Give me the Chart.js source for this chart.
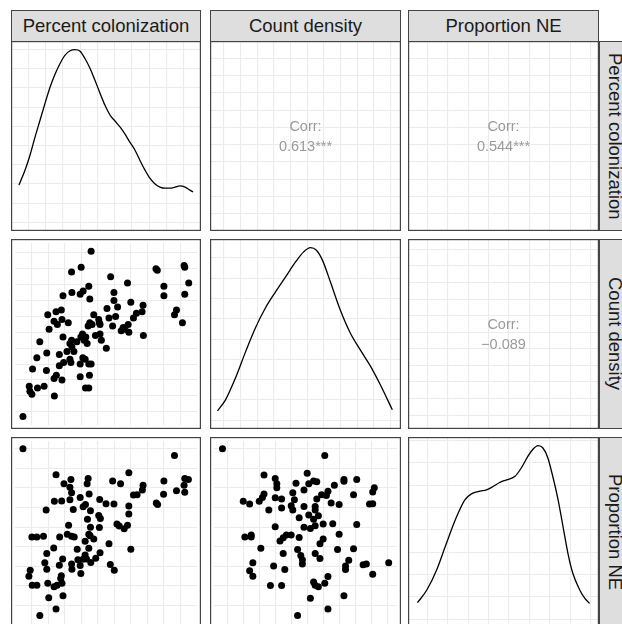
<!DOCTYPE html>
<html>
<head>
<meta charset="utf-8">
<script src="https://cdn.jsdelivr.net/npm/chart.js@4.4.1/dist/chart.umd.min.js"></script>
<style>
  body { margin: 0; background: #fff; width: 622px; height: 624px; overflow: hidden; position: relative; font-family: "Liberation Sans", Arial, sans-serif; }
  .panel { position: absolute; }
  .panel canvas { position: absolute; left: 0; top: 0; }
  .strip { position: absolute; background: #dedede; border: 1px solid #444; box-sizing: border-box; color: #1a1a1a; font-size: 18.5px; display: flex; align-items: center; justify-content: center; white-space: nowrap; }
  .strip.right { writing-mode: vertical-rl; }
  .corr { position: absolute; color: #9a9a9a; font-size: 14.5px; text-align: center; line-height: 20px; }
</style>
</head>
<body>
<script>
var varNames = ["Percent colonization", "Count density", "Proportion NE"];
var corrLabels = ["Corr:", "Corr:", "Corr:"];
var corrValues = ["0.613***", "0.544***", "\u22120.089"];

// gridline positions for each variable and for the density axes
var pcTicks = [5, 10, 15, 20, 25, 30, 35, 40, 45, 50];
var cdTicks = [1, 2, 3, 4, 5, 6, 7, 8, 9, 10, 11];
var neTicks = [0.30, 0.35, 0.40, 0.45, 0.50, 0.55, 0.60, 0.65, 0.70];
var pcDensTicks = [0, 0.005, 0.01, 0.015, 0.02, 0.025, 0.03, 0.035, 0.04, 0.045];
var cdDensTicks = [0, 0.02, 0.04, 0.06, 0.08, 0.10, 0.12, 0.14, 0.16];
var neDensTicks = [0, 0.25, 0.5, 0.75, 1, 1.25, 1.5, 1.75, 2];

// percent colonization vs count density
var pcVsCd = [[23.0,11.1],[20.0,10.1],[17.1,9.8],[28.9,9.5],[22.3,8.9],[34.0,9.1],[17.2,8.5],[19.7,8.4],[20.6,8.6],[14.5,8.3],
  [22.6,8.1],[29.9,8.5],[29.9,8.0],[31.0,7.6],[35.0,7.9],[38.7,7.7],[27.8,7.5],[9.9,7.1],[12.4,7.3],[14.0,7.4],
  [14.2,6.8],[11.8,6.7],[12.8,6.5],[16.1,6.6],[23.8,7.1],[25.3,6.8],[25.7,6.5],[22.6,6.6],[22.1,6.4],[28.4,6.9],
  [30.4,7.0],[29.5,6.4],[10.3,6.2],[14.5,5.7],[7.5,5.4],[20.4,5.9],[21.4,5.7],[21.8,5.3],[17.1,5.5],[16.6,5.3],
  [18.7,5.4],[17.2,5.1],[15.7,4.8],[17.8,4.8],[24.3,5.8],[25.7,5.9],[26.1,5.5],[27.6,5.0],[32.1,6.1],[33.2,6.2],
  [34.2,6.5],[34.4,6.0],[35.8,6.9],[36.7,7.2],[38.4,7.3],[38.8,5.8],[9.6,4.7],[6.6,4.4],[13.4,4.6],[14.7,4.1],
  [16.6,4.3],[16.9,4.1],[13.4,3.9],[9.5,3.6],[5.3,3.7],[11.8,3.1],[12.5,3.3],[14.2,3.0],[20.5,4.4],[21.2,4.3],
  [19.7,4.0],[22.3,4.0],[23.0,4.0],[19.7,3.2],[22.5,3.3],[21.3,2.5],[22.3,2.5],[8.8,2.6],[6.8,2.5],[4.3,2.6],
  [4.5,2.3],[5.1,2.1],[11.9,2.0],[2.4,0.7],[42.6,10.0],[43.0,9.9],[45.0,8.9],[45.0,8.3],[51.1,10.2],[51.3,10.1],
  [52.5,9.1],[51.3,8.4],[48.8,7.4],[48.2,7.1],[50.6,6.6],[19.9,5.7],[20.9,5.5],[23.3,6.5],[25.5,6.6],[32.7,6.3]];

// percent colonization vs proportion NE
var pcVsNe = [[2.4,0.700],[48.2,0.683],[12.4,0.634],[16.9,0.622],[14.8,0.611],[22.1,0.624],[21.8,0.611],[16.6,0.602],[17.1,0.588],[29.5,0.618],
  [31.9,0.611],[34.4,0.639],[38.7,0.607],[38.5,0.595],[36.9,0.583],[35.8,0.582],[45.0,0.618],[44.9,0.584],[42.7,0.562],[43.1,0.558],
  [48.8,0.593],[51.3,0.624],[52.4,0.622],[51.1,0.607],[51.3,0.589],[11.9,0.566],[14.1,0.567],[16.6,0.570],[19.7,0.576],[22.4,0.585],
  [25.6,0.571],[27.5,0.560],[29.9,0.559],[9.4,0.544],[17.6,0.545],[20.6,0.552],[21.3,0.558],[22.8,0.542],[25.3,0.530],[25.8,0.522],
  [21.9,0.520],[34.4,0.554],[34.4,0.534],[30.8,0.508],[31.5,0.503],[33.0,0.496],[34.0,0.505],[22.8,0.500],[25.5,0.499],[16.2,0.505],
  [5.1,0.475],[6.6,0.475],[8.6,0.477],[13.5,0.475],[15.8,0.482],[17.1,0.477],[17.9,0.475],[22.3,0.482],[22.7,0.478],[23.8,0.470],
  [21.2,0.464],[28.4,0.458],[11.7,0.447],[18.8,0.444],[22.3,0.446],[35.0,0.444],[9.6,0.433],[14.4,0.419],[13.4,0.403],[9.0,0.409],
  [9.6,0.393],[17.1,0.406],[17.2,0.393],[19.7,0.402],[21.2,0.429],[21.6,0.419],[22.9,0.410],[24.4,0.421],[25.7,0.435],[28.8,0.405],
  [30.0,0.390],[4.6,0.390],[4.2,0.375],[5.2,0.352],[6.6,0.352],[9.9,0.357],[11.8,0.348],[12.7,0.352],[14.2,0.357],[13.8,0.369],
  [14.0,0.376],[19.9,0.382],[10.2,0.320],[14.5,0.325],[12.4,0.291],[7.5,0.275],[20.6,0.418],[19.0,0.417]];

// count density vs proportion NE
var cdVsNe = [[0.7,0.700],[7.1,0.683],[3.3,0.633],[4.0,0.624],[4.1,0.611],[4.1,0.601],[6.0,0.638],[5.3,0.612],[6.1,0.611],[6.4,0.618],
  [6.6,0.616],[7.7,0.607],[8.3,0.622],[8.3,0.617],[9.1,0.622],[10.2,0.601],[10.1,0.590],[3.3,0.585],[3.2,0.576],[3.0,0.566],
  [2.0,0.566],[2.4,0.559],[4.0,0.575],[4.4,0.572],[5.1,0.588],[5.2,0.570],[5.8,0.595],[6.9,0.583],[7.2,0.581],[7.3,0.592],
  [8.9,0.583],[9.9,0.559],[10.1,0.560],[7.5,0.562],[8.0,0.558],[6.6,0.572],[3.6,0.544],[4.4,0.549],[5.0,0.555],[5.1,0.544],
  [5.8,0.553],[6.5,0.553],[6.5,0.544],[6.1,0.531],[6.7,0.529],[5.5,0.524],[6.4,0.520],[7.0,0.508],[7.6,0.509],[6.5,0.504],
  [5.8,0.500],[6.2,0.497],[4.0,0.501],[9.1,0.507],[2.1,0.475],[2.5,0.480],[2.5,0.475],[4.3,0.465],[4.5,0.473],[4.7,0.480],
  [5.0,0.480],[5.5,0.474],[7.0,0.470],[6.8,0.458],[8.0,0.482],[3.1,0.446],[4.5,0.433],[5.4,0.443],[5.6,0.428],[5.7,0.417],
  [5.7,0.406],[6.5,0.433],[6.8,0.420],[7.9,0.443],[8.9,0.445],[8.6,0.416],[8.4,0.401],[8.4,0.392],[9.5,0.404],[9.7,0.406],
  [10.1,0.380],[11.1,0.409],[2.6,0.409],[2.4,0.389],[2.6,0.375],[3.9,0.401],[4.6,0.392],[3.7,0.351],[4.4,0.351],[6.5,0.352],
  [6.7,0.348],[7.1,0.357],[7.3,0.374],[6.2,0.319],[8.3,0.325],[7.3,0.291],[5.4,0.275],[6.4,0.360]];

// density curves on the diagonal
var pcDensX = [2.3,4.05,5.5,6.95,8.4,9.84,11.3,12.74,14.2,15.6,17.1,18.5,20.0,21.4,22.9,24.3,25.8,27.2,28.7,30.1,31.6,33.0,34.4,35.9,37.3,38.8,40.2,41.7,43.1,44.6,46.0,47.5,48.9,50.4,51.8,52.7];
var pcDensY = [0.0097,0.0136,0.0175,0.0222,0.0266,0.0310,0.0352,0.0386,0.0414,0.0435,0.0447,0.0450,0.0446,0.0427,0.0401,0.0370,0.0336,0.0305,0.0279,0.0264,0.0248,0.0230,0.0209,0.0188,0.0162,0.0136,0.0115,0.0100,0.0092,0.0089,0.0089,0.0092,0.0095,0.0092,0.0084,0.0079];
var cdDensX = [0.62,1.10,1.70,2.30,2.89,3.49,4.09,4.69,5.29,5.77,6.19,6.55,6.91,7.39,7.98,8.58,9.18,9.78,10.38,11.1];
var cdDensY = [0.0094,0.0202,0.0418,0.0674,0.0909,0.1106,0.1263,0.1410,0.1557,0.1656,0.1700,0.1675,0.1577,0.1361,0.1086,0.0860,0.0693,0.0536,0.0350,0.0104];
var neDensX = [0.276,0.299,0.323,0.347,0.372,0.392,0.408,0.429,0.445,0.461,0.477,0.494,0.514,0.530,0.546,0.559,0.571,0.583,0.595,0.607,0.620,0.632,0.644,0.656,0.673,0.685,0.697];
var neDensY = [0.186,0.328,0.552,0.852,1.150,1.337,1.404,1.435,1.449,1.486,1.531,1.561,1.598,1.693,1.823,1.906,1.943,1.917,1.805,1.598,1.337,1.038,0.739,0.515,0.328,0.236,0.179];

// axis ranges (ggplot adds 5% on each side)
var axes = {
  pc: { min: 0, max: 55, ticks: pcTicks },
  cd: { min: 0.17, max: 11.62, ticks: cdTicks },
  ne: { min: 0.253, max: 0.720, ticks: neTicks },
  pcDens: { min: -0.00225, max: 0.04725, ticks: pcDensTicks },
  cdDens: { min: -0.0085, max: 0.1785, ticks: cdDensTicks },
  neDens: { min: -0.097, max: 2.040, ticks: neDensTicks }
};

var colLeft = [11, 210, 408], colWidth = [190, 191, 191];
var rowTop = [41, 239, 437], rowHeight = [190, 190, 191];

function pairs(list) {
  return list.map(function(p) { return { x: p[0], y: p[1] }; });
}
function zip(xs, ys) {
  return xs.map(function(x, i) { return { x: x, y: ys[i] }; });
}

function scaleOpts(ax, horizontal) {
  return {
    type: 'linear', min: ax.min, max: ax.max,
    afterBuildTicks: function(s) { s.ticks = ax.ticks.map(function(v) { return { value: v }; }); },
    afterFit: function(s) { if (horizontal) s.height = 0; else s.width = 0; },
    ticks: { display: false },
    grid: { color: '#ebebeb', lineWidth: 1.1, drawTicks: false },
    border: { display: false }
  };
}

var borderPlugin = {
  id: 'panelBorder',
  afterDraw: function(chart) {
    var c = chart.ctx;
    c.save();
    c.strokeStyle = '#444';
    c.lineWidth = 1.2;
    c.strokeRect(0.6, 0.6, chart.width - 1.2, chart.height - 1.2);
    c.restore();
  }
};

function makePanel(row, col, xAx, yAx, datasets) {
  var div = document.createElement('div');
  div.className = 'panel';
  div.style.left = colLeft[col] + 'px';
  div.style.top = rowTop[row] + 'px';
  div.style.width = colWidth[col] + 'px';
  div.style.height = rowHeight[row] + 'px';
  var cv = document.createElement('canvas');
  cv.width = colWidth[col];
  cv.height = rowHeight[row];
  div.appendChild(cv);
  document.body.appendChild(div);
  new Chart(cv.getContext('2d'), {
    type: 'scatter',
    data: { datasets: datasets },
    options: {
      responsive: false, animation: false, events: [],
      layout: { padding: 0 },
      plugins: { legend: { display: false }, tooltip: { enabled: false } },
      scales: { x: scaleOpts(xAx, true), y: scaleOpts(yAx, false) }
    },
    plugins: [borderPlugin]
  });
  return div;
}

function points(list) {
  return { data: pairs(list), pointRadius: 3.5, pointBackgroundColor: '#000', pointBorderWidth: 0, showLine: false };
}
function curve(xs, ys) {
  return { data: zip(xs, ys), showLine: true, pointRadius: 0, borderColor: '#000', borderWidth: 1.3, cubicInterpolationMode: 'monotone', fill: false };
}

function corrText(row, col, label, value) {
  var d = document.createElement('div');
  d.className = 'corr';
  d.style.left = colLeft[col] + 'px';
  d.style.width = colWidth[col] + 'px';
  d.style.top = (rowTop[row] + rowHeight[row] / 2 - 20) + 'px';
  d.innerHTML = label + '<br>' + value;
  document.body.appendChild(d);
}

// row 1
makePanel(0, 0, axes.pc, axes.pcDens, [curve(pcDensX, pcDensY)]);
makePanel(0, 1, axes.cd, axes.pc, []);
makePanel(0, 2, axes.ne, axes.pc, []);
// row 2
makePanel(1, 0, axes.pc, axes.cd, [points(pcVsCd)]);
makePanel(1, 1, axes.cd, axes.cdDens, [curve(cdDensX, cdDensY)]);
makePanel(1, 2, axes.ne, axes.cd, []);
// row 3
makePanel(2, 0, axes.pc, axes.ne, [points(pcVsNe)]);
makePanel(2, 1, axes.cd, axes.ne, [points(cdVsNe)]);
makePanel(2, 2, axes.ne, axes.neDens, [curve(neDensX, neDensY)]);

corrText(0, 1, corrLabels[0], corrValues[0]);
corrText(0, 2, corrLabels[1], corrValues[1]);
corrText(1, 2, corrLabels[2], corrValues[2]);

// strips
for (var i = 0; i < 3; i++) {
  var s = document.createElement('div');
  s.className = 'strip';
  s.style.left = colLeft[i] + 'px';
  s.style.top = '10px';
  s.style.width = colWidth[i] + 'px';
  s.style.height = (rowTop[0] - 10 + 1) + 'px';
  s.textContent = varNames[i];
  document.body.appendChild(s);

  var r = document.createElement('div');
  r.className = 'strip right';
  r.style.left = '599px';
  r.style.top = rowTop[i] + 'px';
  r.style.width = '32px';
  r.style.height = rowHeight[i] + 'px';
  r.textContent = varNames[i];
  document.body.appendChild(r);
}
</script>
</body>
</html>
